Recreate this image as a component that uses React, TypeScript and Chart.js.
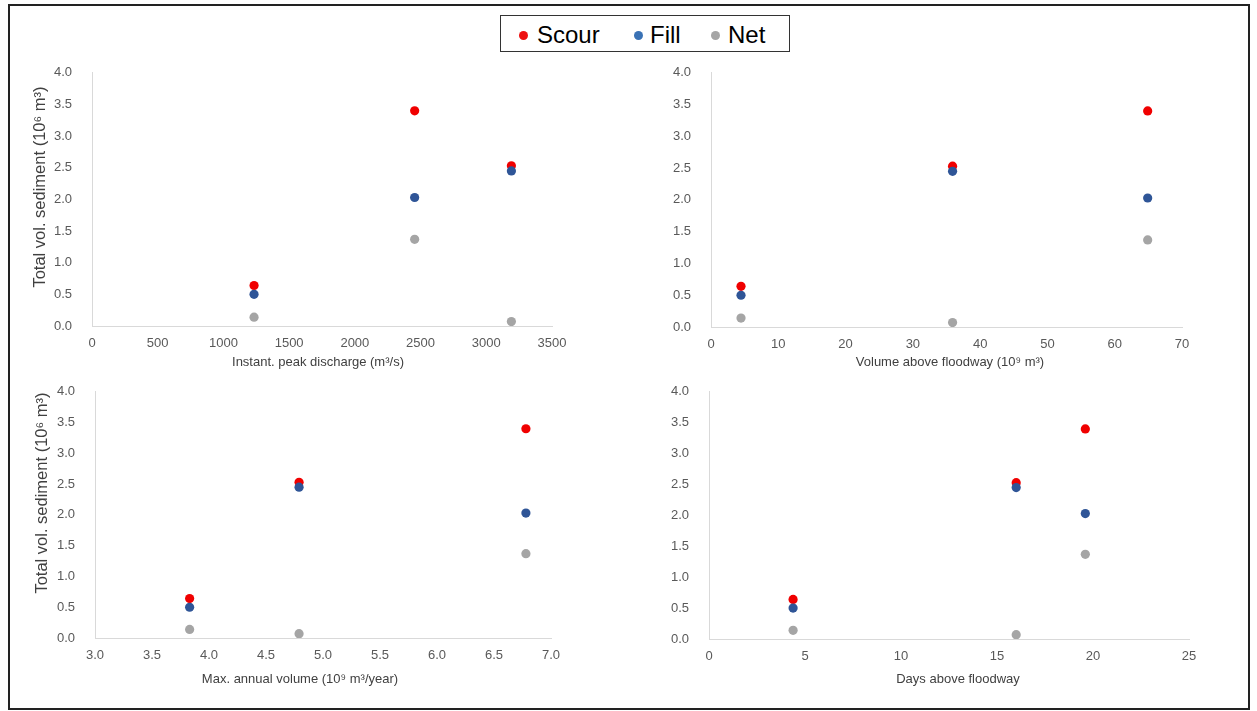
import React, { useEffect, useRef } from "react";
import { Chart, registerables } from "chart.js";

Chart.register(...registerables);

// ---- data ----
const seriesNames = ["Scour", "Fill", "Net"];
const scour = [0.64, 2.53, 3.4];
const fill = [0.5, 2.45, 2.03];
const net = [0.14, 0.07, 1.37];

const peakDischarge = [1233, 3191, 2455];
const volumeAboveFloodway = [4.46, 35.9, 64.9];
const maxAnnualVolume = [3.83, 4.79, 6.78];
const daysAboveFloodway = [4.38, 16.0, 19.6];

const yTickValues = [0, 0.5, 1, 1.5, 2, 2.5, 3, 3.5, 4];
const xTicksPeak = [0, 500, 1000, 1500, 2000, 2500, 3000, 3500];
const xTicksVolume = [0, 10, 20, 30, 40, 50, 60, 70];
const xTicksAnnual = [3, 3.5, 4, 4.5, 5, 5.5, 6, 6.5, 7];
const xTicksDays = [0, 5, 10, 15, 20, 25];

const xTitles = [
  "Instant. peak discharge (m³/s)",
  "Volume above floodway (10⁹ m³)",
  "Max. annual volume (10⁹ m³/year)",
  "Days above floodway",
];
const yTitle = "Total vol. sediment (10⁶ m³)";

// ---- styles ----
const COLORS = ["#F00000", "#2F5597", "#A5A5A5"];
const LEGEND_COLORS = ["#EE1111", "#3A72B5", "#A5A5A5"];
const FONT = "'Liberation Sans', Arial, sans-serif";
const TICK_COLOR = "#595959";
const TITLE_COLOR = "#404040";
const AXIS_COLOR = "#D9D9D9";

type PanelDef = {
  xs: number[];
  ticks: number[];
  dec: number;
  L: number;
  R: number;
  T: number;
  B: number;
};

const panels: PanelDef[] = [
  { xs: peakDischarge, ticks: xTicksPeak, dec: 0, L: 92, R: 552, T: 73, B: 326 },
  { xs: volumeAboveFloodway, ticks: xTicksVolume, dec: 0, L: 711, R: 1182, T: 73, B: 327 },
  { xs: maxAnnualVolume, ticks: xTicksAnnual, dec: 1, L: 95, R: 551, T: 392, B: 638 },
  { xs: daysAboveFloodway, ticks: xTicksDays, dec: 0, L: 709, R: 1189, T: 392, B: 639 },
];

const xTitlePos = [
  { cx: 318, cy: 361 },
  { cx: 950, cy: 361 },
  { cx: 300, cy: 678 },
  { cx: 958, cy: 678 },
];

const yTitlePos = [
  { cx: 39, cy: 187 },
  { cx: 41, cy: 493 },
];

function Panel({ p }: { p: PanelDef }) {
  const ref = useRef<HTMLCanvasElement>(null);
  const yW = 60;
  const yTickPad = 12;
  const tickFont = 13;
  // vertical scale adds half a label height + tick padding above the top tick
  const topExtra = (tickFont * 1.2) / 2 + yTickPad;
  const padRight = 30;
  const xAxisH = 40;
  const left = p.L - yW;
  const top = Math.round(p.T - topExtra);
  const width = p.R + padRight - left;
  const height = p.B + xAxisH - top;

  useEffect(() => {
    if (!ref.current) return;
    const series = [scour, fill, net];
    const chart = new Chart(ref.current, {
      type: "scatter",
      data: {
        datasets: series.map((vals, si) => ({
          label: seriesNames[si],
          data: vals.map((v, i) => ({ x: p.xs[i], y: v })),
          backgroundColor: COLORS[si],
          borderColor: COLORS[si],
          pointRadius: 4.6,
          pointBorderWidth: 0,
          order: 3 - si,
        })),
      },
      options: {
        responsive: false,
        animation: false,
        layout: { padding: { top: 0, right: padRight, left: 0, bottom: 0 } },
        plugins: { legend: { display: false }, tooltip: { enabled: false } },
        scales: {
          x: {
            type: "linear",
            min: p.ticks[0],
            max: p.ticks[p.ticks.length - 1],
            afterBuildTicks: (s: any) => {
              s.ticks = p.ticks.map((v) => ({ value: v }));
            },
            ticks: {
              autoSkip: false,
              maxRotation: 0,
              padding: 2,
              color: TICK_COLOR,
              font: { family: FONT, size: tickFont },
              callback: (v: any) => Number(v).toFixed(p.dec),
            },
            grid: { display: false },
            border: { display: true, color: AXIS_COLOR, width: 1 },
            afterFit: (s: any) => {
              s.height = xAxisH;
            },
          },
          y: {
            type: "linear",
            min: 0,
            max: 4,
            afterBuildTicks: (s: any) => {
              s.ticks = yTickValues.map((v) => ({ value: v }));
            },
            ticks: {
              autoSkip: false,
              padding: yTickPad,
              color: TICK_COLOR,
              font: { family: FONT, size: tickFont },
              callback: (v: any) => Number(v).toFixed(1),
            },
            grid: { display: false },
            border: { display: true, color: AXIS_COLOR, width: 1 },
            afterFit: (s: any) => {
              s.width = yW;
            },
          },
        },
      },
    });
    return () => chart.destroy();
  }, []);

  return (
    <canvas
      ref={ref}
      width={width}
      height={height}
      style={{ position: "absolute", left, top, width, height }}
    />
  );
}

const legendItems = [
  { dotX: 523, textX: 537 },
  { dotX: 638, textX: 650 },
  { dotX: 715, textX: 728 },
];

export default function App() {
  return (
    <div style={{ position: "absolute", left: 0, top: 0, width: 1257, height: 711, background: "#fff", fontFamily: FONT }}>
      <div
        style={{
          position: "absolute",
          left: 8,
          top: 4,
          width: 1242,
          height: 706,
          border: "2px solid #222",
          boxSizing: "border-box",
        }}
      />
      <div
        style={{
          position: "absolute",
          left: 500,
          top: 15,
          width: 290,
          height: 37,
          border: "1px solid #333",
          boxSizing: "border-box",
          background: "#fff",
        }}
      />
      {legendItems.map((it, i) => (
        <React.Fragment key={i}>
          <div
            style={{
              position: "absolute",
              left: it.dotX - 4.5,
              top: 35 - 4.5,
              width: 9,
              height: 9,
              borderRadius: "50%",
              background: LEGEND_COLORS[i],
            }}
          />
          <div
            style={{
              position: "absolute",
              left: it.textX,
              top: 23,
              fontSize: 24,
              lineHeight: "24px",
              color: "#000",
              whiteSpace: "nowrap",
            }}
          >
            {seriesNames[i]}
          </div>
        </React.Fragment>
      ))}
      {panels.map((p, i) => (
        <Panel key={i} p={p} />
      ))}
      {xTitlePos.map((pos, i) => (
        <div
          key={"x" + i}
          style={{
            position: "absolute",
            left: pos.cx,
            top: pos.cy,
            transform: "translate(-50%, -50%)",
            fontSize: 13,
            lineHeight: "15px",
            color: TITLE_COLOR,
            whiteSpace: "nowrap",
          }}
        >
          {xTitles[i]}
        </div>
      ))}
      {yTitlePos.map((pos, i) => (
        <div
          key={"y" + i}
          style={{
            position: "absolute",
            left: pos.cx,
            top: pos.cy,
            transform: "translate(-50%, -50%) rotate(-90deg)",
            fontSize: 16.5,
            lineHeight: "18px",
            color: TITLE_COLOR,
            whiteSpace: "nowrap",
          }}
        >
          {yTitle}
        </div>
      ))}
    </div>
  );
}
